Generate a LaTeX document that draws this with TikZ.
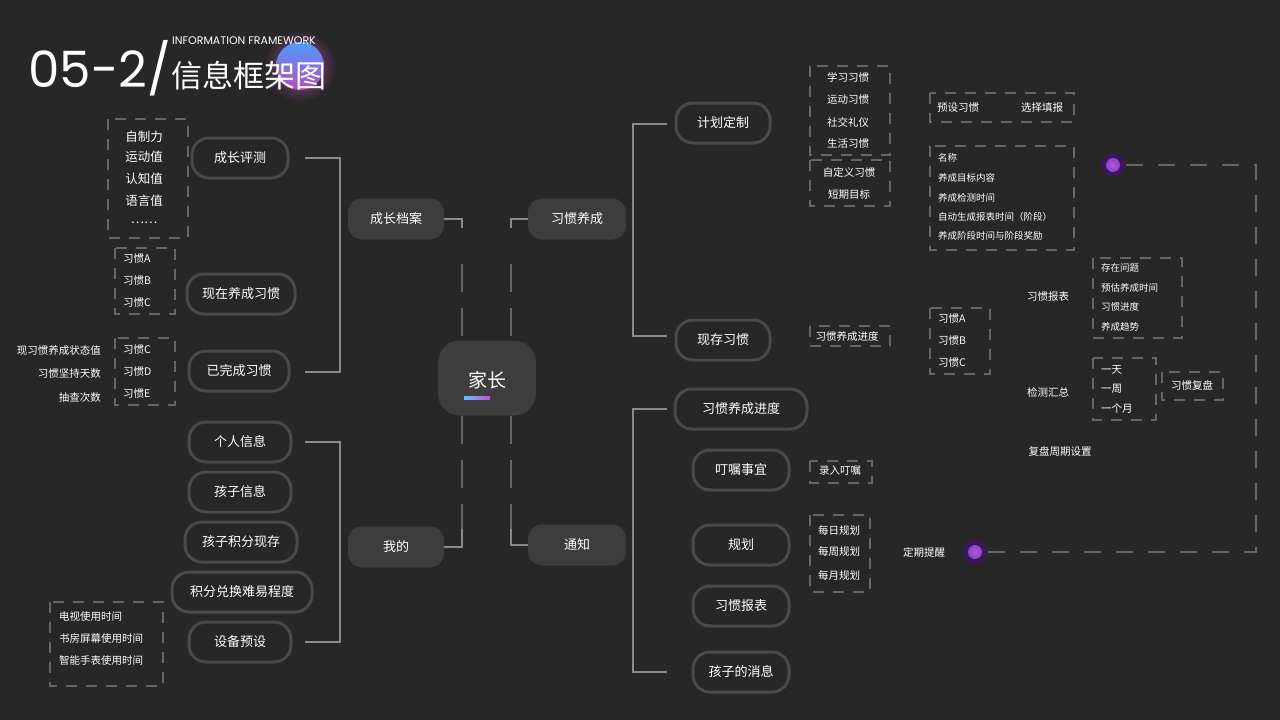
\documentclass[tikz,border=0pt]{standalone}
\usepackage{fontspec}
\setmainfont{Noto Sans CJK SC}
\newfontfamily\latf{Poppins}
\definecolor{bg}{HTML}{272727}
\definecolor{nodef}{HTML}{3D3D3D}
\definecolor{ring}{HTML}{4A4A4A}
\definecolor{ln}{HTML}{8A8A8A}
\definecolor{dsh}{HTML}{666666}
\tikzset{
 lvlone/.style={fill=nodef,rounded corners=14pt,inner sep=0pt,text=white,font=\fontsize{13}{15}\selectfont},
 lvltwo/.style={draw=ring,line width=3pt,rounded corners=17pt,inner sep=0pt,minimum height=40pt,text=white,font=\fontsize{13}{15}\selectfont},
 dbox/.style={draw=dsh,line width=1.1pt,dash pattern=on 11pt off 9pt},
 conn/.style={draw=ln,line width=1.1pt},
 dconn/.style={draw=dsh,line width=1.1pt,dash pattern=on 28pt off 16pt},
 sm/.style={text=white,font=\fontsize{10.5}{12}\selectfont,inner sep=0pt},
 md/.style={text=white,font=\fontsize{12.5}{14}\selectfont,inner sep=0pt},
}
\begin{document}
\begin{tikzpicture}[x=1pt,y=-1pt]
\fill[bg] (0,0) rectangle (1280,720);
\useasboundingbox (0,0) rectangle (1280,720);
% title
\shade[inner color=violet!70!white,outer color=bg] (300,66) circle (36);
\shade[top color=blue!55!cyan!70!white,bottom color=violet!80!magenta!70!white] (300,66) circle (24);
\node[anchor=west,text=white,font=\latf\fontsize{50}{52}\selectfont,inner sep=0pt] (t1) at (28,68) {05-2/};
\node[anchor=west,text=white,font=\latf\fontsize{11}{12}\selectfont,inner sep=0pt] (t2) at (172,41) {INFORMATION FRAMEWORK};
\node[anchor=west,text=white,font=\fontsize{31}{33}\selectfont,inner sep=0pt] (t3) at (171,76) {信息框架图};
% center
\node[lvlone,rounded corners=22pt,minimum width=98pt,minimum height=75pt] (root) at (487,378) {};
\node[text=white,font=\fontsize{19}{21}\selectfont,inner sep=0pt] (rootl) at (487,380) {家长};
\shade[left color=cyan!60!blue!60!white,right color=violet!60!magenta!70!white] (464,396) rectangle (490,399);
% level 1
\node[lvlone,minimum width=96pt,minimum height=41pt] (gd) at (396,219) {成长档案};
\node[lvlone,minimum width=98pt,minimum height=41pt] (xg) at (577,219) {习惯养成};
\node[lvlone,minimum width=96pt,minimum height=41pt] (wd) at (396,547) {我的};
\node[lvlone,minimum width=98pt,minimum height=41pt] (tz) at (577,545) {通知};
\draw[conn] (gd.east) -- (462,219) -- (462,228);
\draw[dconn] (462,264) -- (root.north -| 462,0);
\draw[conn] (xg.west) -- (511,219) -- (511,228);
\draw[dconn] (511,264) -- (root.north -| 511,0);
\draw[dconn] (root.south -| 462,0) -- (462,529);
\draw[conn] (462,529) -- (462,547) -- (wd.east);
\draw[dconn] (root.south -| 511,0) -- (511,529);
\draw[conn] (511,529) -- (511,545) -- (tz.west);
% left level 2
\node[lvltwo,minimum width=96pt] (cp) at (240,158) {成长评测};
\node[lvltwo,minimum width=108pt] (xz) at (241,294) {现在养成习惯};
\node[lvltwo,minimum width=100pt] (yw) at (239,371) {已完成习惯};
\draw[conn] (305,158) -- (340,158) -- (340,372) -- (305,372);
\node[lvltwo,minimum width=102pt] (gr) at (240,442) {个人信息};
\node[lvltwo,minimum width=102pt] (hz) at (240,492) {孩子信息};
\node[lvltwo,minimum width=112pt] (jf) at (241,542) {孩子积分现存};
\node[lvltwo,minimum width=140pt] (dh) at (242,592) {积分兑换难易程度};
\node[lvltwo,minimum width=102pt] (sb) at (240,642) {设备预设};
\draw[conn] (305,442) -- (340,442) -- (340,642) -- (305,642);
% right level 2
\node[lvltwo,minimum width=94pt] (jh) at (723,123) {计划定制};
\node[lvltwo,minimum width=94pt] (xc) at (723,340) {现存习惯};
\draw[conn] (667,124) -- (633,124) -- (633,336) -- (667,336);
\node[lvltwo,minimum width=132pt] (jd) at (741,409) {习惯养成进度};
\node[lvltwo,minimum width=96pt] (dz) at (741,470) {叮嘱事宜};
\node[lvltwo,minimum width=96pt] (gh) at (741,545) {规划};
\node[lvltwo,minimum width=96pt] (bb) at (741,606) {习惯报表};
\node[lvltwo,minimum width=96pt] (xx) at (741,672) {孩子的消息};
\draw[conn] (667,409) -- (633,409) -- (633,672) -- (667,672);
% left dashed boxes
\draw[dbox] (108,119) rectangle (188,238);
\foreach \t/\y in {自制力/137,运动值/157,认知值/179,语言值/201,……/223}
  \node[md] at (144,\y) {\t};
\draw[dbox] (115,248) rectangle (175,314);
\foreach \t/\y in {习惯A/259,习惯B/281,习惯C/303}
  \node[sm,anchor=west] at (123,\y) {\t};
\draw[dbox] (115,338) rectangle (175,405);
\foreach \t/\y in {习惯C/350,习惯D/372,习惯E/394}
  \node[sm,anchor=west] at (123,\y) {\t};
\foreach \t/\y in {现习惯养成状态值/351,习惯坚持天数/374,抽查次数/398}
  \node[sm,anchor=east] at (101,\y) {\t};
\draw[dbox] (50,602) rectangle (163,686);
\foreach \t/\y in {电视使用时间/617,书房屏幕使用时间/639,智能手表使用时间/661}
  \node[sm,anchor=west] at (59,\y) {\t};
% right dashed boxes
\draw[dbox] (810,66) rectangle (890,155);
\foreach \t/\y in {学习习惯/77,运动习惯/100,社交礼仪/122,生活习惯/144}
  \node[sm] at (848,\y) {\t};
\draw[dbox] (810,160) rectangle (890,206);
\node[sm] at (849,172) {自定义习惯};
\node[sm] at (849,195) {短期目标};
\draw[dbox] (930,93) rectangle (1074,122);
\node[sm] at (958,108) {预设习惯};
\node[sm] at (1042,108) {选择填报};
\draw[dbox] (930,146) rectangle (1074,250);
\foreach \t/\y in {名称/158,养成目标内容/178,养成检测时间/198,自动生成报表时间（阶段）/217,养成阶段时间与阶段奖励/236}
  \node[sm,anchor=west,font=\fontsize{9.5}{11}\selectfont] at (938,\y) {\t};
\draw[dbox] (810,326) rectangle (890,346);
\node[sm] at (847,337) {习惯养成进度};
\draw[dbox] (930,308) rectangle (990,374);
\foreach \t/\y in {习惯A/319,习惯B/341,习惯C/363}
  \node[sm,anchor=west] at (938,\y) {\t};
\node[sm] (bbl) at (1048,297) {习惯报表};
\draw[dbox] (1093,258) rectangle (1182,338);
\foreach \t/\y in {存在问题/268,预估养成时间/288,习惯进度/307,养成趋势/327}
  \node[sm,anchor=west,font=\fontsize{9.5}{11}\selectfont] at (1101,\y) {\t};
\node[sm] (jc) at (1048,392) {检测汇总};
\draw[dbox] (1093,358) rectangle (1156,420);
\foreach \t/\y in {一天/370,一周/389,一个月/409}
  \node[sm,anchor=west] at (1101,\y) {\t};
\draw[dbox] (1162,372) rectangle (1223,400);
\node[sm] (fp) at (1192,385) {习惯复盘};
\node[sm] (zq) at (1060,451) {复盘周期设置};
\draw[dbox] (810,461) rectangle (872,483);
\node[sm] at (840,471) {录入叮嘱};
\draw[dbox] (810,515) rectangle (870,592);
\foreach \t/\y in {每日规划/530,每周规划/552,每月规划/575}
  \node[sm] at (839,\y) {\t};
\node[sm] (dq) at (924,552) {定期提醒};
% glow dots and loop
\fill[blue!30!violet!40!bg] (1113,165) circle (12);
\shade[inner color=violet!60!magenta!70!white,outer color=blue!50!violet!70!white] (1113,165) circle (7);
\fill[blue!30!violet!40!bg] (975,552) circle (12);
\shade[inner color=violet!60!magenta!70!white,outer color=blue!50!violet!70!white] (975,552) circle (7);
\coordinate (d1) at (1126,165);
\coordinate (d2) at (988,552);
\draw[dconn,dash pattern=on 17pt off 15pt] (d1) -- (1256,165) -- (1256,552) -- (d2);
\end{tikzpicture}
\end{document}
